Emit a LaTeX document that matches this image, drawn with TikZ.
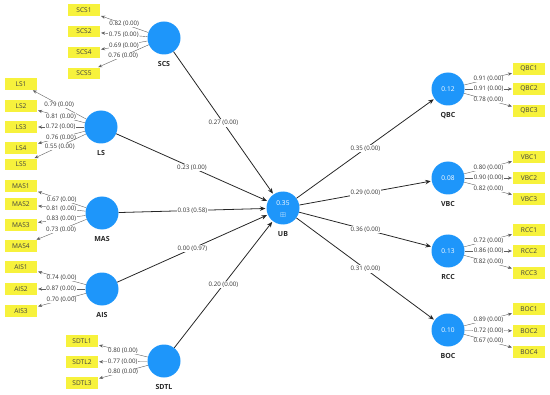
\documentclass[tikz,border=0pt]{standalone}
\usepackage{amssymb}
\usepackage{fontspec}
\setmainfont{Open Sans}
\usetikzlibrary{arrows.meta}
\definecolor{lvblue}{RGB}{30,150,250}
\definecolor{indyel}{RGB}{247,242,60}
\definecolor{ldgray}{RGB}{95,95,95}
\tikzset{
  lv/.style={circle,fill=lvblue,minimum size=1.32cm,inner sep=0pt,text=white,
    font=\fontsize{7.5}{8}\selectfont},   % latent variable
  lvname/.style={font=\fontsize{8}{9}\selectfont\bfseries,text=black!85,inner sep=1pt,yshift=-6pt},
  ind/.style={rectangle,fill=indyel,minimum width=1.28cm,minimum height=0.46cm,
    inner sep=0pt,font=\fontsize{7.5}{8}\selectfont,text=black!75},  % indicator
  ldg/.style={-{Stealth[length=1.6mm,width=1.3mm]},line width=0.45pt,ldgray,shorten >=1pt},
  ldlbl/.style={font=\fontsize{7}{8}\selectfont,text=black!80,fill=white,inner sep=0.6pt},
  pth/.style={-{Stealth[length=2.2mm,width=1.8mm]},line width=0.9pt,black!85,shorten >=1pt},
  pthlbl/.style={font=\fontsize{7}{8}\selectfont,text=black!80,fill=white,inner sep=1pt},
}

\begin{document}
\begin{tikzpicture}[scale=1.0]
  \useasboundingbox (0,0) rectangle (22,-15.8);
  % exogenous constructs
  \node[lv,label={[lvname]below:SCS}] (SCS) at (6.56,-1.52) {};
  \node[lv,label={[lvname]below:LS}] (LS) at (4.04,-5.08) {};
  \node[lv,label={[lvname]below:MAS}] (MAS) at (4.08,-8.52) {};
  \node[lv,label={[lvname]below:AIS}] (AIS) at (4.08,-11.56) {};
  \node[lv,label={[lvname]below:SDTL}] (SDTL) at (6.56,-14.44) {};
  % mediator
  \node[lv,label={[lvname]below:UB}] (UB) at (11.32,-8.32) {};
  \node[text=white,font=\fontsize{7.5}{8}\selectfont,inner sep=0pt] (UBr) at (11.32,-8.12) {0.35};
  \node[text=white,font=\fontsize{8}{9}\selectfont,inner sep=0pt] (UBplus) at (11.32,-8.6) {$\boxplus$};
  % outcome constructs
  \node[lv,label={[lvname]below:QBC}] (QBC) at (17.92,-3.56) {0.12};
  \node[lv,label={[lvname]below:VBC}] (VBC) at (17.92,-7.12) {0.08};
  \node[lv,label={[lvname]below:RCC}] (RCC) at (17.92,-10.04) {0.13};
  \node[lv,label={[lvname]below:BOC}] (BOC) at (17.92,-13.2) {0.10};

  % indicators, left
  \node[ind] (SCS1) at (3.36,-0.40) {SCS1}; \node[ind] (SCS2) at (3.36,-1.26) {SCS2};
  \node[ind] (SCS4) at (3.36,-2.10) {SCS4}; \node[ind] (SCS5) at (3.36,-2.94) {SCS5};
  \node[ind] (LS1) at (0.84,-3.36) {LS1}; \node[ind] (LS2) at (0.84,-4.24) {LS2};
  \node[ind] (LS3) at (0.84,-5.08) {LS3}; \node[ind] (LS4) at (0.84,-5.92) {LS4};
  \node[ind] (LS5) at (0.84,-6.58) {LS5};
  \node[ind] (MAS1) at (0.84,-7.44) {MAS1}; \node[ind] (MAS2) at (0.84,-8.16) {MAS2};
  \node[ind] (MAS3) at (0.84,-9.0) {MAS3}; \node[ind] (MAS4) at (0.84,-9.84) {MAS4};
  \node[ind] (AIS1) at (0.84,-10.68) {AIS1}; \node[ind] (AIS2) at (0.84,-11.56) {AIS2};
  \node[ind] (AIS3) at (0.84,-12.44) {AIS3};
  \node[ind] (SDTL1) at (3.28,-13.64) {SDTL1}; \node[ind] (SDTL2) at (3.28,-14.48) {SDTL2};
  \node[ind] (SDTL3) at (3.28,-15.32) {SDTL3};
  % indicators, right
  \node[ind] (QBC1) at (21.16,-2.76) {QBC1}; \node[ind] (QBC2) at (21.16,-3.56) {QBC2};
  \node[ind] (QBC3) at (21.16,-4.44) {QBC3};
  \node[ind] (VBC1) at (21.16,-6.28) {VBC1}; \node[ind] (VBC2) at (21.16,-7.12) {VBC2};
  \node[ind] (VBC3) at (21.16,-7.96) {VBC3};
  \node[ind] (RCC1) at (21.16,-9.2) {RCC1}; \node[ind] (RCC2) at (21.16,-10.04) {RCC2};
  \node[ind] (RCC3) at (21.16,-10.92) {RCC3};
  \node[ind] (BOC1) at (21.16,-12.36) {BOC1}; \node[ind] (BOC2) at (21.16,-13.24) {BOC2};
  \node[ind] (BOC4) at (21.16,-14.08) {BOC4};

  % outer loadings
  \draw[ldg] (SCS) -- node[ldlbl]{0.82 (0.00)} (SCS1);
  \draw[ldg] (SCS) -- node[ldlbl]{0.75 (0.00)} (SCS2);
  \draw[ldg] (SCS) -- node[ldlbl]{0.69 (0.00)} (SCS4);
  \draw[ldg] (SCS) -- node[ldlbl]{0.76 (0.00)} (SCS5);
  \draw[ldg] (LS) -- node[ldlbl]{0.79 (0.00)} (LS1);
  \draw[ldg] (LS) -- node[ldlbl]{0.81 (0.00)} (LS2);
  \draw[ldg] (LS) -- node[ldlbl]{0.72 (0.00)} (LS3);
  \draw[ldg] (LS) -- node[ldlbl]{0.76 (0.00)} (LS4);
  \draw[ldg] (LS) -- node[ldlbl]{0.55 (0.00)} (LS5);
  \draw[ldg] (MAS) -- node[ldlbl]{0.67 (0.00)} (MAS1);
  \draw[ldg] (MAS) -- node[ldlbl]{0.81 (0.00)} (MAS2);
  \draw[ldg] (MAS) -- node[ldlbl]{0.83 (0.00)} (MAS3);
  \draw[ldg] (MAS) -- node[ldlbl]{0.73 (0.00)} (MAS4);
  \draw[ldg] (AIS) -- node[ldlbl]{0.74 (0.00)} (AIS1);
  \draw[ldg] (AIS) -- node[ldlbl]{0.87 (0.00)} (AIS2);
  \draw[ldg] (AIS) -- node[ldlbl]{0.70 (0.00)} (AIS3);
  \draw[ldg] (SDTL) -- node[ldlbl]{0.80 (0.00)} (SDTL1);
  \draw[ldg] (SDTL) -- node[ldlbl]{0.77 (0.00)} (SDTL2);
  \draw[ldg] (SDTL) -- node[ldlbl]{0.80 (0.00)} (SDTL3);
  \draw[ldg] (QBC) -- node[ldlbl]{0.91 (0.00)} (QBC1);
  \draw[ldg] (QBC) -- node[ldlbl]{0.91 (0.00)} (QBC2);
  \draw[ldg] (QBC) -- node[ldlbl]{0.78 (0.00)} (QBC3);
  \draw[ldg] (VBC) -- node[ldlbl]{0.80 (0.00)} (VBC1);
  \draw[ldg] (VBC) -- node[ldlbl]{0.90 (0.00)} (VBC2);
  \draw[ldg] (VBC) -- node[ldlbl]{0.82 (0.00)} (VBC3);
  \draw[ldg] (RCC) -- node[ldlbl]{0.72 (0.00)} (RCC1);
  \draw[ldg] (RCC) -- node[ldlbl]{0.86 (0.00)} (RCC2);
  \draw[ldg] (RCC) -- node[ldlbl]{0.82 (0.00)} (RCC3);
  \draw[ldg] (BOC) -- node[ldlbl]{0.89 (0.00)} (BOC1);
  \draw[ldg] (BOC) -- node[ldlbl]{0.72 (0.00)} (BOC2);
  \draw[ldg] (BOC) -- node[ldlbl]{0.67 (0.00)} (BOC4);

  % structural paths
  \draw[pth] (SCS) -- node[pthlbl]{0.27 (0.00)} (UB);
  \draw[pth] (LS) -- node[pthlbl]{0.23 (0.00)} (UB);
  \draw[pth] (MAS) -- node[pthlbl]{0.03 (0.58)} (UB);
  \draw[pth] (AIS) -- node[pthlbl]{0.00 (0.97)} (UB);
  \draw[pth] (SDTL) -- node[pthlbl]{0.20 (0.00)} (UB);
  \draw[pth] (UB) -- node[pthlbl]{0.35 (0.00)} (QBC);
  \draw[pth] (UB) -- node[pthlbl]{0.29 (0.00)} (VBC);
  \draw[pth] (UB) -- node[pthlbl]{0.36 (0.00)} (RCC);
  \draw[pth] (UB) -- node[pthlbl]{0.31 (0.00)} (BOC);
\end{tikzpicture}
\end{document}
